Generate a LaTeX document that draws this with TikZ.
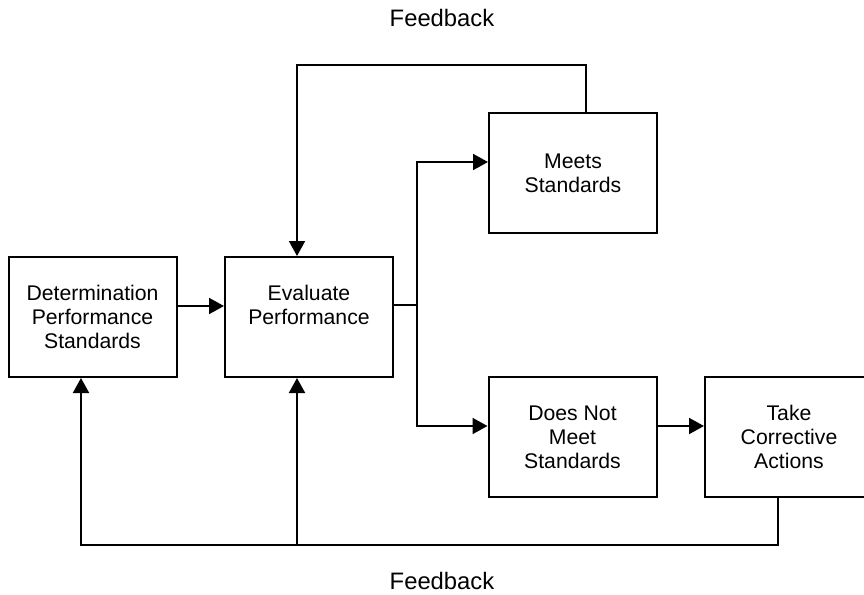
\documentclass[tikz,border=0pt]{standalone}
\usepackage{fontspec}
\setmainfont{Liberation Sans}
\usepackage{tikz}
\usetikzlibrary{arrows.meta}
\usetikzlibrary{calc}

\begin{document}
\begin{tikzpicture}[x=0.5pt,y=-0.5pt,
  box/.style={draw,line width=1pt,minimum width=84pt,minimum height=60pt,inner sep=0pt,align=center,font=\fontsize{10.6}{12}\selectfont},
  arr/.style={line width=1pt,-{Triangle[length=7.5pt,width=8pt]}},
  txt/.style={inner sep=0pt,font=\fontsize{11.9}{14}\selectfont}]
\useasboundingbox (0,0) rectangle (864,595);
\node[box] (det) at (92.5,317) {Determination\\Performance\\Standards};
\node[box] (eval) at (309,317) {Evaluate\\Performance\\~};
\node[box] (meets) at (573,173) {Meets\\Standards};
\node[box] (notmeet) at (572.5,437) {Does Not\\Meet\\Standards};
\node[box] (take) at (789,437) {Take\\Corrective\\Actions};
\node[txt] (fbup) at (442,18) {Feedback};
\node[txt] (fbdown) at (442,581) {Feedback};

\coordinate (split) at (417,305);
\coordinate (fbtop) at (297,65);
\coordinate (fbbot) at (81,545);
\coordinate (fbmid) at (297,545);

\draw[arr] ([yshift=5.5pt]det.east) -- ([yshift=5.5pt]eval.west);
\draw[line width=1pt] (eval.east |- split) -- (split);
\draw[arr] (split) |- ([yshift=5.5pt]meets.west);
\draw[arr] (split) |- ([yshift=5.5pt]notmeet.west);
\draw[arr] ([yshift=5.5pt]notmeet.east) -- ([yshift=5.5pt]take.west);
%feedback loops
\draw[arr] ([xshift=6.5pt]meets.north) |- (fbtop) -- (fbtop |- eval.north);
\draw[arr] ([xshift=-5.5pt]take.south) |- (fbbot) -- (fbbot |- det.south);
\draw[arr] (fbmid) -- (fbmid |- eval.south);
\end{tikzpicture}
\end{document}
